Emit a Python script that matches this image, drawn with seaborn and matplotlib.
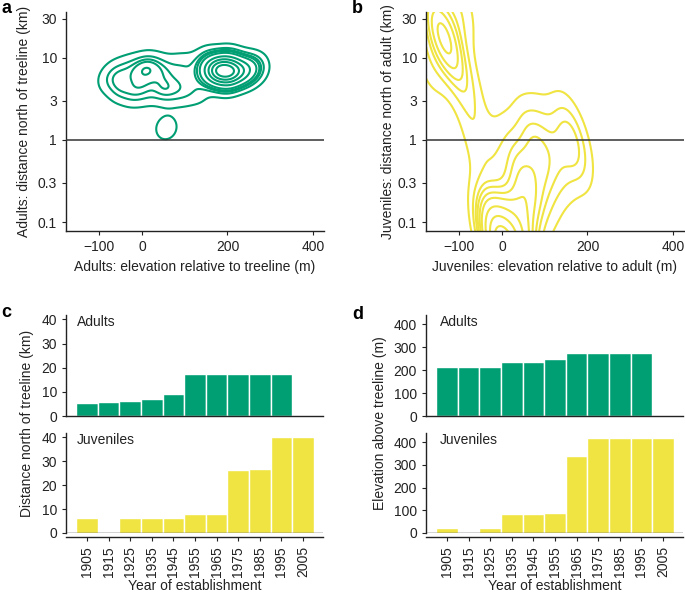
import numpy as np
import pandas as pd
import matplotlib
matplotlib.use("Agg")
import matplotlib.pyplot as plt
import seaborn as sns

# ---------------- data ----------------
# Panel a: representative adult locations (elevation rel. treeline m, distance km, weight)
# (the last two are sparse out-of-view observations)
adult_elev = [180, 210, 240, 155, 265, 200, 200, 150,
              -60, -30, 0, 20, 45, 80, 110, -80,
              -50, 0, 50, 90, 120,
              -20, -50, 10, 45, 70, 100, 135,
              57,
              100, 100]
adult_dist = [7.0, 6.8, 6.9, 7.2, 7.5, 5.5, 8.8, 9.5,
              6.6, 7.3, 7.3, 7.4, 7.2, 8.0, 8.2, 5.3,
              5.0, 5.2, 5.3, 5.5, 5.0,
              3.8, 4.1, 3.8, 4.0, 3.9, 3.7, 3.6,
              1.4,
              0.005, 5000]
adult_w = [14, 12, 6, 4, 2, 2, 2, 1,
           1, 1.2, 2, 2, 1.2, 0.8, 0.7, 0.8,
           1, 1, 1, 0.8, 0.6,
           1.5, 1, 1, 1.3, 1.3, 1, 0.6,
           1.1,
           1, 1]

# Panel b: representative juvenile locations (elevation rel. adult m, distance km, weight)
juv_elev = [0, 25, -15, 45, 10, 55, 60,
            100, 130, 160, 165, 150, 100, 60, 20, -10, 80, 90, 185,
            -40, -45, -70, -80, -100,
            -128, -140, -160, -100, -170]
juv_dist = [0.05, 0.06, 0.07, 0.09, 0.035, 0.2, 0.35,
            0.35, 0.5, 0.7, 1.2, 1.4, 1.5, 1.2, 0.9, 0.6, 0.9, 0.2, 0.6,
            0.12, 0.5, 1.5, 4.0, 7.0,
            14, 22, 30, 40, 8]
juv_w = [10, 8, 5, 4, 6, 3, 2,
         1.5, 1.5, 1.3, 1.0, 1, 1, 1, 1, 1, 1.5, 0.7, 0.6,
         0.8, 0.8, 0.8, 1, 1,
         3.5, 2, 2, 1.5, 1]

# Panels c, d: by year of establishment
years = ['1905', '1915', '1925', '1935', '1945', '1955',
         '1965', '1975', '1985', '1995', '2005']
adult_dist_km = [5.4, 5.8, 6.2, 6.9, 8.9, 17.3, 17.3, 17.3, 17.3, 17.3, np.nan]
juv_dist_km = [6.4, np.nan, 6.4, 6.4, 6.4, 7.9, 7.9, 26.3, 26.9, 40, 40]
adult_elev_m = [215, 215, 215, 236, 236, 250, 276, 276, 276, 276, np.nan]
juv_elev_m = [22, np.nan, 22, 83, 83, 86, 339, 420, 420, 420, 420]

GREEN = '#009E73'
YELLOW = '#F0E442'
DARK = '#222222'

sns.set_style('ticks')
plt.rcParams['font.family'] = ['Liberation Sans', 'DejaVu Sans']
plt.rcParams['font.size'] = 10
plt.rcParams['axes.linewidth'] = 1.0
plt.rcParams['axes.edgecolor'] = DARK
plt.rcParams['xtick.color'] = DARK
plt.rcParams['ytick.color'] = DARK
plt.rcParams['xtick.major.size'] = 3
plt.rcParams['ytick.major.size'] = 3
plt.rcParams['xtick.labelsize'] = 10
plt.rcParams['ytick.labelsize'] = 10
plt.rcParams['axes.labelsize'] = 10
plt.rcParams['text.color'] = DARK
plt.rcParams['axes.labelcolor'] = DARK

W, H = 685, 594
fig = plt.figure(figsize=(W / 100, H / 100), dpi=100)


def px_axes(left, top, right, bottom):
    return fig.add_axes([left / W, 1 - bottom / H, (right - left) / W, (bottom - top) / H])


def kde_panel(ax, x, y, w, color, bw, xlabel, ylabel):
    df = pd.DataFrame({'x': x, 'y': y, 'w': w})
    sns.kdeplot(data=df, x='x', y='y', weights='w', log_scale=(False, True),
                color=color, linewidths=1.5, bw_adjust=bw, gridsize=500, ax=ax)
    ax.set_xlim(-178, 426)
    ax.set_ylim(0.078, 36)
    ax.axhline(1, color='#333333', lw=1.1, zorder=5)
    ax.set_yticks([0.1, 0.3, 1, 3, 10, 30])
    ax.set_yticklabels(['0.1', '0.3', '1', '3', '10', '30'])
    ax.yaxis.set_minor_locator(matplotlib.ticker.NullLocator())
    ax.set_xticks([-100, 0, 200, 400])
    ax.set_xlabel(xlabel)
    ax.set_ylabel(ylabel)
    sns.despine(ax=ax)


ax_a = px_axes(66, 12, 324, 231)
kde_panel(ax_a, adult_elev, adult_dist, adult_w, GREEN, 0.3,
          'Adults: elevation relative to treeline (m)',
          'Adults: distance north of treeline (km)')
ax_a.yaxis.set_label_coords(-0.135, 0.5)

ax_b = px_axes(426, 12, 684, 231)
kde_panel(ax_b, juv_elev, juv_dist, juv_w, YELLOW, 0.52,
          'Juveniles: elevation relative to adult (m)',
          'Juveniles: distance north of adult (km)')
ax_b.yaxis.set_label_coords(-0.12, 0.5)

lab_x_fig = {'Distance north of treeline (km)': 27 / W,
             'Elevation above treeline (m)': 380 / W}


def bar_pair(left, right, top_vals, bot_vals, ymax, yticks, ylabel, lab_x):
    ax_t = px_axes(left, 315, right, 416)
    ax_b2 = px_axes(left, 433, right, 533)
    for ax, vals, col, name in ((ax_t, top_vals, GREEN, 'Adults'),
                                (ax_b2, bot_vals, YELLOW, 'Juveniles')):
        df = pd.DataFrame({'year': years, 'val': vals})
        sns.barplot(data=df, x='year', y='val', order=years, color=col,
                    width=1.0, edgecolor='white', linewidth=1.0, ax=ax, errorbar=None,
                    saturation=1)
        ax.set_xlim(-0.97, 10.93)
        ax.set_ylim(0, ymax)
        ax.set_yticks(yticks)
        ax.set_ylabel('')
        ax.set_xlabel('')
        ax.text(lab_x, 0.93, name, transform=ax.transAxes, ha='left', va='center',
                fontsize=10)
        sns.despine(ax=ax)
    ax_t.tick_params(axis='x', bottom=False, labelbottom=False)
    ax_b2.axhline(0, color=DARK, lw=1.0, zorder=5)
    ax_b2.spines['bottom'].set_position(('outward', 3))
    ax_b2.tick_params(axis='x', rotation=90)
    ax_b2.set_xlabel('Year of establishment', labelpad=1.5)
    fig.text(lab_x_fig[ylabel], 1 - 423 / H, ylabel, rotation=90,
             ha='center', va='center', fontsize=10)
    return ax_t, ax_b2


bar_pair(66, 323, adult_dist_km, juv_dist_km, 41.8, [0, 10, 20, 30, 40],
         'Distance north of treeline (km)', 0.043)
bar_pair(426, 683, adult_elev_m, juv_elev_m, 440, [0, 100, 200, 300, 400],
         'Elevation above treeline (m)', 0.054)

for lab, x, y in (('a', 1, 0), ('b', 352, 0), ('c', 1, 304), ('d', 352, 306)):
    fig.text(x / W, 1 - y / H, lab, ha='left', va='top', fontsize=13,
             fontweight='bold', color='black')

fig.savefig('out.png', dpi=100)
